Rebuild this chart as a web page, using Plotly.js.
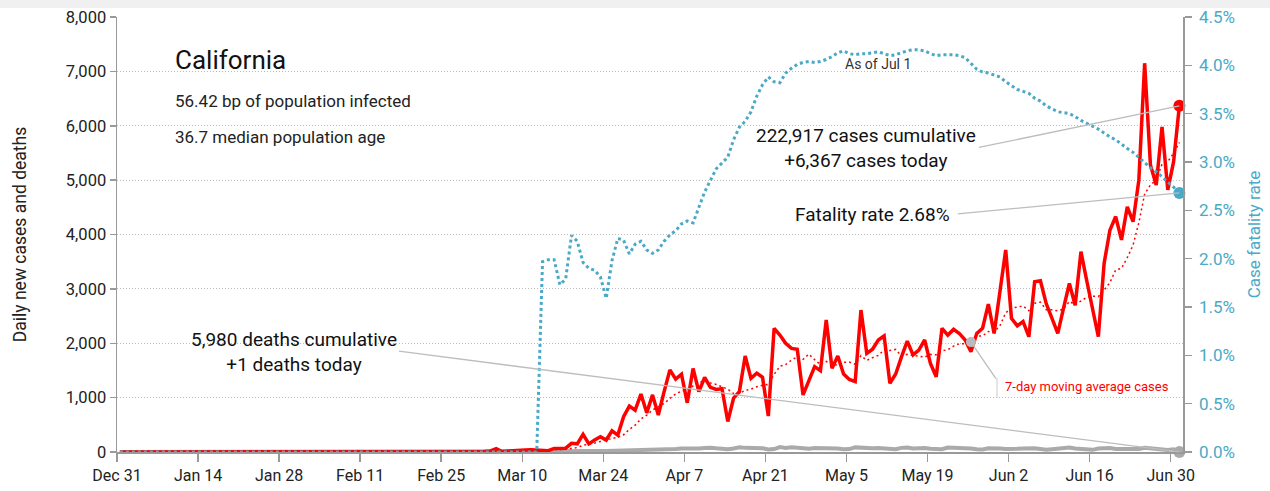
<!DOCTYPE html>
<html>
<head>
<meta charset="utf-8">
<script src="https://cdn.plot.ly/plotly-3.0.1.min.js"></script>
<style>
html,body{margin:0;padding:0;background:#fff;}
#chart{width:1270px;height:491px;}
</style>
</head>
<body>
<div id="chart"></div>
<script>
// ---- data (daily, starting Dec 31, 2019) ----
const startDate = '2019-12-31';
const tickLabels = ['Dec 31','Jan 14','Jan 28','Feb 11','Feb 25','Mar 10','Mar 24','Apr 7','Apr 21','May 5','May 19','Jun 2','Jun 16','Jun 30'];

// daily new cases
const cases = [
0,0,0,0,0,0,0,0,0,0,0,0,0,0,0,0,0,0,0,0,0,0,0,0,0,0,0,0,0,0,0,0,0,0,0,0,0,0,0,0,0,0,0,0,0,0,0,0,0,0,0,0,0,0,0,0,0,0,0,0,0,
10,15,10,20,60,10,20,25,30,35,40,35,40,25,65,65,70,
160,150,325,150,220,280,220,390,310,650,845,770,1065,720,1050,680,1110,1510,1340,1430,905,1535,
1110,1370,1190,1150,1165,560,990,1110,1765,1355,1450,1375,660,2275,2150,2000,1905,1890,1050,1325,1570,1495,2430,1540,1765,1435,1335,1295,2610,1815,1890,2060,2135,1265,1435,1750,2040,
1785,1875,2060,1630,1385,2275,2150,2255,2180,2060,1845,2180,2275,2720,2180,3000,3715,2460,2320,2400,2120,3130,3150,2730,
2450,2180,2650,3100,2700,3685,3150,2600,2120,3470,4080,4330,3900,4510,4235,5000,7150,5280,4910,5980,4820,5340,6367
];

// 7-day moving average of cases
const casesMA = [
0,0,0,0,0,0,0,0,0,0,0,0,0,0,0,0,0,0,0,0,0,0,0,0,0,0,0,0,0,0,0,0,0,0,0,0,0,0,0,0,0,0,0,0,0,0,0,0,0,0,0,0,0,0,0,0,0,0,0,0,0,
1,4,5,8,16,18,21,23,25,29,31,28,32,33,39,44,49,
66,82,123,141,163,194,215,248,271,317,416,495,607,679,773,826,891,986,1068,1120,1146,1216,
1277,1314,1269,1241,1204,1154,1076,1076,1133,1156,1199,1229,1244,1427,1576,1609,1688,1751,1704,1799,1699,1605,1666,1614,1596,1651,1653,1614,1773,1685,1735,1777,1877,1867,1887,1764,1796,
1781,1755,1744,1796,1789,1864,1880,1947,1991,1991,2021,2135,2135,2216,2206,2323,2559,2647,2667,2685,2599,2735,2756,2616,
2614,2594,2630,2770,2709,2785,2845,2866,2858,2975,3115,3348,3379,3573,3806,4218,4744,4915,4998,5295,5339,5497,5692
];

// daily new deaths
const deaths = [
0,0,0,0,0,0,0,0,0,0,0,0,0,0,0,0,0,0,0,0,0,0,0,0,0,0,0,0,0,0,0,0,0,0,0,0,0,0,0,0,0,0,0,0,0,0,0,0,0,0,0,0,0,0,0,0,0,0,0,0,0,
0,0,0,1,0,1,0,1,2,2,3,4,5,4,6,7,5,8,10,12,15,14,18,20,22,25,28,30,32,35,38,
40,45,50,36,54,63,58,50,63,72,80,68,54,50,63,85,76,72,81,68,45,54,90,76,85,72,63,58,72,68,
81,72,63,50,54,85,76,81,68,72,63,45,50,76,81,63,68,72,58,45,50,81,76,85,72,63,50,45,68,72,63,
54,50,58,63,72,68,54,40,50,63,72,81,63,54,45,40,63,68,72,54,50,45,40,54,76,63,50,45,36,50,
1
];

// case fatality rate, %
const fatalityRate = [
0,0,0,0,0,0,0,0,0,0,0,0,0,0,0,0,0,0,0,0,0,0,0,0,0,0,0,0,0,0,0,0,0,0,0,0,0,0,0,0,0,0,0,0,0,0,0,0,0,0,0,0,0,0,0,0,0,0,0,0,0,0,0,0,0,0,0,0,0,0,0,0,0,
1.97,1.99,1.99,1.73,1.79,2.24,2.18,1.96,1.90,1.88,1.81,1.59,1.98,2.21,2.19,2.05,2.15,2.18,2.09,
2.055,2.09,2.18,2.245,2.29,2.36,2.39,2.37,2.54,2.69,2.81,2.93,2.99,3.05,3.23,3.36,3.42,3.52,3.68,3.80,3.88,3.83,3.82,3.92,3.97,4.01,4.03,4.04,4.03,4.04,4.06,4.09,4.13,4.15,4.12,4.11,
4.12,4.12,4.13,4.14,4.12,4.10,4.11,4.13,4.15,4.16,4.16,4.15,4.12,4.10,4.11,4.11,4.11,4.10,4.08,4.02,3.96,3.93,3.92,3.90,3.88,3.83,3.79,3.75,3.73,3.71,3.66,3.63,3.58,3.55,3.52,3.51,3.50,3.47,3.43,3.40,3.37,3.34,3.30,3.26,3.23,3.18,3.14,3.10,3.05,2.99,2.94,2.90,2.85,2.79,2.74,2.68
];

const maLabelDate = '2020-05-26';

// ---- dates ----
function dateStr(i){
  const d = new Date(Date.UTC(2019,11,31) + i*86400000);
  return d.toISOString().slice(0,10);
}
const dates = cases.map((_, i) => dateStr(i) + ' 12:00');
const tickVals = tickLabels.map((_, i) => dateStr(i*14));
const last = cases.length - 1;
const maIdx = dates.indexOf(maLabelDate + ' 12:00');

const FONT = 'Roboto, "Liberation Sans", sans-serif';
const TEAL = '#4aa9c6';
const RED = '#ff0000';
const GRAY = '#aaaaaa';

const traces = [
  {x: dates, y: deaths, type:'scatter', mode:'lines', line:{color:GRAY, width:4}, hoverinfo:'skip'},
  {x: dates, y: casesMA, type:'scatter', mode:'lines', line:{color:RED, width:1.5, dash:'2px,3px'}, hoverinfo:'skip'},
  {x: dates, y: cases, type:'scatter', mode:'lines', line:{color:RED, width:3.5}, hoverinfo:'skip'},
  {x: dates, y: fatalityRate, yaxis:'y2', type:'scatter', mode:'lines', line:{color:TEAL, width:3, dash:'3px,3px'}, hoverinfo:'skip'},
  {x: [dates[maIdx]], y: [casesMA[maIdx]], type:'scatter', mode:'markers', marker:{color:'#bbbbbb', size:10}, hoverinfo:'skip'},
  {x: [dates[last]], y: [deaths[last]], type:'scatter', mode:'markers', marker:{color:GRAY, size:12}, hoverinfo:'skip', cliponaxis:false},
  {x: [dates[last]], y: [cases[last]], type:'scatter', mode:'markers', marker:{color:RED, size:12}, hoverinfo:'skip', cliponaxis:false},
  {x: [dates[last]], y: [fatalityRate[last]], yaxis:'y2', type:'scatter', mode:'markers', marker:{color:TEAL, size:12}, hoverinfo:'skip', cliponaxis:false}
];

const L = 117, R = 1183, T = 17, B = 452;
const px = v => (v - L) / (R - L);
const py = v => (B - v) / (B - T);

function txt(text, x, y, size, color, xanchor){
  return {text, xref:'paper', yref:'paper', x:px(x), y:py(y), xanchor: xanchor||'center', yanchor:'middle',
          showarrow:false, align:'center', font:{family:FONT, size, color: color||'#111'}};
}
function pointer(x, y, yref, tx, ty, hx, hy){
  return {text:'', x, y, xref:'x', yref, showarrow:true, arrowhead:0, arrowwidth:1.3, arrowcolor:'#bdbdbd',
          ax: tx - hx, ay: ty - hy, standoff:0, startstandoff:0};
}

const annotations = [
  txt('California', 173, 60, 26, '#111', 'left'),
  txt('56.42 bp of population infected', 173, 101, 17, '#222', 'left'),
  txt('36.7 median population age', 173, 137, 17, '#222', 'left'),
  txt('As of Jul 1', 878, 64, 14, '#333'),
  txt('222,917 cases cumulative<br>+6,367 cases today', 866, 148, 19, '#111'),
  txt('Fatality rate 2.68%', 872, 214, 19, '#111'),
  txt('5,980 deaths cumulative<br>+1 deaths today', 294, 352, 19, '#111'),
  txt('7-day moving average cases', 1003, 386, 13, RED, 'left'),
  pointer(dates[last], cases[last], 'y', 978, 147, 1180, 105),
  pointer(dates[last], fatalityRate[last], 'y2', 957, 213, 1180, 192),
  pointer(dates[last], deaths[last], 'y', 398, 351, 1180, 452),
  pointer(dates[maIdx], casesMA[maIdx], 'y', 997, 380, 971, 342)
];

const shapes = [
  {type:'rect', xref:'paper', yref:'paper', x0:px(-5), x1:px(1280), y0:py(8), y1:py(-5), fillcolor:'#f0f0f0', line:{width:0}, layer:'below'},
  {type:'line', xref:'paper', yref:'paper', x0:px(997), x1:px(997), y0:py(378), y1:py(398), line:{color:'#cccccc', width:1}}
];

const layout = {
  width:1270, height:491,
  margin:{l:L, r:1270-R, t:T, b:491-B, pad:0},
  paper_bgcolor:'#ffffff', plot_bgcolor:'#ffffff',
  showlegend:false,
  font:{family:FONT, size:16, color:'#222'},
  xaxis:{
    type:'date', range:['2019-12-31', '2020-07-02 03:00'],
    tickvals: tickVals, ticktext: tickLabels,
    showgrid:false, zeroline:false, showline:true, linecolor:'#999', linewidth:1.5,
    ticks:'outside', ticklen:8, tickcolor:'#999', tickwidth:1.5,
    tickfont:{family:FONT, size:16, color:'#222'}
  },
  yaxis:{
    range:[0,8000], dtick:1000, tickformat:',', showgrid:true, gridcolor:'#bbbbbb', griddash:'1px,2px', gridwidth:1,
    zeroline:false, showline:true, linecolor:'#999', linewidth:1.5,
    ticks:'outside', ticklen:6, tickcolor:'#999', tickwidth:1.5,
    tickfont:{family:FONT, size:16.5, color:'#222'},
    title:{text:'Daily new cases and deaths', font:{family:FONT, size:17.5, color:'#222'}, standoff:34}
  },
  yaxis2:{
    overlaying:'y', side:'right', range:[0,4.5], dtick:0.5, tickformat:'.1f', ticksuffix:'%',
    showgrid:false, zeroline:false, showline:true, linecolor:'#999', linewidth:1.5,
    ticks:'outside', ticklen:7, tickcolor:'#999', tickwidth:1.5, ticklabelstandoff:4,
    tickfont:{family:FONT, size:17, color:TEAL},
    title:{text:'Case fatality rate', font:{family:FONT, size:17, color:TEAL}, standoff:14}
  },
  annotations, shapes
};

Plotly.newPlot('chart', traces, layout, {staticPlot:true, displayModeBar:false});
</script>
</body>
</html>
